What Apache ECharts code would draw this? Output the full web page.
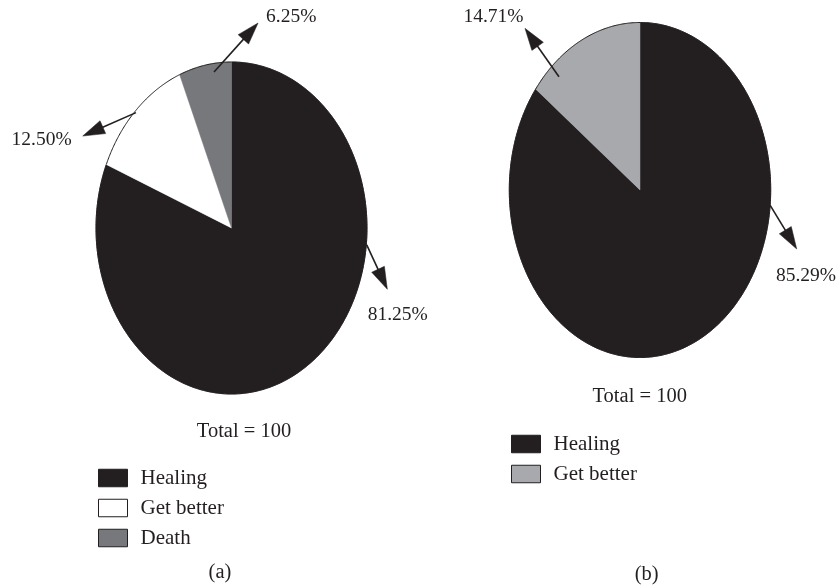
<!DOCTYPE html>
<html><head><meta charset="utf-8">
<script src="https://cdn.jsdelivr.net/npm/echarts/dist/echarts.min.js"></script>
<style>html,body{margin:0;padding:0;background:#fff}#c{width:839px;height:588px}</style>
</head><body><div id="c"></div>
<script>
// ---- data ----
const categoriesA = ['Healing', 'Get better', 'Death'];
const valuesA = [81.25, 12.50, 6.25];
const totalA = 100;
const categoriesB = ['Healing', 'Get better'];
const valuesB = [85.29, 14.71];
const totalB = 100;
const panelLabels = ['(a)', '(b)'];

// ---- styles ----
const colorsA = ['#231f20', '#ffffff', '#77787b'];
const colorsB = ['#231f20', '#a7a9ac'];
const ink = '#231f20';
const FONT = 'Liberation Serif';

// annotation arrows: [tailX, tailY, tipX, tipY, labelX, labelY] in unit-ellipse coordinates
const arrowsA = [
  [0.998, -0.102, 1.150, -0.369, 1.227, -0.524],
  [-0.705, 0.695, -1.098, 0.554, -1.401, 0.530],
  [-0.129, 0.940, 0.196, 1.235, 0.441, 1.271]
];
const arrowsB = [
  [0.995, -0.090, 1.199, -0.352, 1.270, -0.513],
  [-0.620, 0.676, -0.880, 0.965, -1.121, 1.033]
];

function sliceSeries(cats, vals, colors, idx) {
  const sum = vals.reduce((a, b) => a + b, 0);
  let acc = 0;
  return cats.map((c, i) => {
    const a0 = acc / sum * 360; acc += vals[i]; const a1 = acc / sum * 360;
    return {
      type: 'custom', name: c, coordinateSystem: 'cartesian2d',
      xAxisIndex: idx, yAxisIndex: idx, clip: false, silent: true,
      itemStyle: { color: colors[i] },
      data: [[a0, a1]],
      renderItem: (params, api) => {
        const s = api.value(0), e = api.value(1);
        const n = Math.max(2, Math.ceil((e - s) / 0.5));
        const arc = [];
        for (let k = 0; k <= n; k++) {
          const t = (s + (e - s) * k / n) * Math.PI / 180;
          arc.push(api.coord([Math.sin(t), Math.cos(t)]));
        }
        const c0 = api.coord([0, 0]);
        return { type: 'group', children: [
          { type: 'polygon', shape: { points: [c0].concat(arc) }, style: { fill: colors[i], stroke: colors[i], lineWidth: 0.5 } },
          { type: 'polyline', shape: { points: arc }, style: { fill: null, stroke: ink, lineWidth: 1 } }
        ]};
      }
    };
  });
}

function arrowSeries(vals, arrows, idx) {
  const sum = vals.reduce((a, b) => a + b, 0);
  return {
    type: 'custom', coordinateSystem: 'cartesian2d', xAxisIndex: idx, yAxisIndex: idx,
    clip: false, silent: true, z: 5,
    data: arrows.map((a, i) => a.concat([i])),
    renderItem: (params, api) => {
      const p0 = api.coord([api.value(0), api.value(1)]);
      const p1 = api.coord([api.value(2), api.value(3)]);
      const lp = api.coord([api.value(4), api.value(5)]);
      const k = api.value(6);
      const dx = p1[0] - p0[0], dy = p1[1] - p0[1];
      const L = Math.hypot(dx, dy); const ux = dx / L, uy = dy / L;
      const hl = 22, hw = 7;
      const bx = p1[0] - ux * hl, by = p1[1] - uy * hl;
      const text = (vals[k] / sum * 100).toFixed(2) + '%';
      return { type: 'group', children: [
        { type: 'line', shape: { x1: p0[0], y1: p0[1], x2: bx + ux * 2, y2: by + uy * 2 }, style: { stroke: ink, lineWidth: 1.6 } },
        { type: 'polygon', shape: { points: [[p1[0], p1[1]], [bx - uy * hw, by + ux * hw], [bx + uy * hw, by - ux * hw]] }, style: { fill: ink, stroke: ink, lineWidth: 0.5 } },
        { type: 'text', x: lp[0], y: lp[1], style: { text: text, fill: ink, fontSize: 19.5, fontFamily: FONT, align: 'center', verticalAlign: 'middle' } }
      ]};
    }
  };
}

const axisOff = { type: 'value', min: -1, max: 1, show: false };
const legendBase = {
  orient: 'vertical', padding: 0, itemWidth: 29, itemHeight: 17.5, itemGap: 9,
  icon: 'rect', selectedMode: false,
  itemStyle: { borderColor: ink, borderWidth: 1 },
  textStyle: { color: ink, fontSize: 21, fontFamily: FONT, padding: [0, 0, 0, 8] }
};

const chart = echarts.init(document.getElementById('c'), null, { renderer: 'canvas' });
chart.setOption({
  animation: false,
  backgroundColor: '#ffffff',
  grid: [
    { left: 96, top: 62, width: 271, height: 332 },
    { left: 509.3, top: 22.5, width: 261.4, height: 335 }
  ],
  xAxis: [Object.assign({ gridIndex: 0 }, axisOff), Object.assign({ gridIndex: 1 }, axisOff)],
  yAxis: [Object.assign({ gridIndex: 0 }, axisOff), Object.assign({ gridIndex: 1 }, axisOff)],
  legend: [
    Object.assign({}, legendBase, { left: 98, top: 467.5,
      data: categoriesA.map((c, i) => ({ name: c, itemStyle: { color: colorsA[i] } })) }),
    Object.assign({}, legendBase, { left: 511, top: 433.5,
      data: categoriesB.map((c, i) => ({ name: c, itemStyle: { color: colorsB[i] } })) })
  ],
  graphic: [
    { type: 'text', x: 244, y: 431.7, style: { text: 'Total = ' + totalA, fill: ink, fontSize: 20.5, fontFamily: FONT, align: 'center', verticalAlign: 'middle' } },
    { type: 'text', x: 639.7, y: 396.7, style: { text: 'Total = ' + totalB, fill: ink, fontSize: 20.5, fontFamily: FONT, align: 'center', verticalAlign: 'middle' } },
    { type: 'text', x: 220, y: 573, style: { text: panelLabels[0], fill: ink, fontSize: 20.5, fontFamily: FONT, align: 'center', verticalAlign: 'middle' } },
    { type: 'text', x: 646.7, y: 575, style: { text: panelLabels[1], fill: ink, fontSize: 20.5, fontFamily: FONT, align: 'center', verticalAlign: 'middle' } }
  ],
  series: [].concat(
    sliceSeries(categoriesA, valuesA, colorsA, 0),
    sliceSeries(categoriesB, valuesB, colorsB, 1),
    [arrowSeries(valuesA, arrowsA, 0), arrowSeries(valuesB, arrowsB, 1)]
  )
});
</script>
</body></html>
